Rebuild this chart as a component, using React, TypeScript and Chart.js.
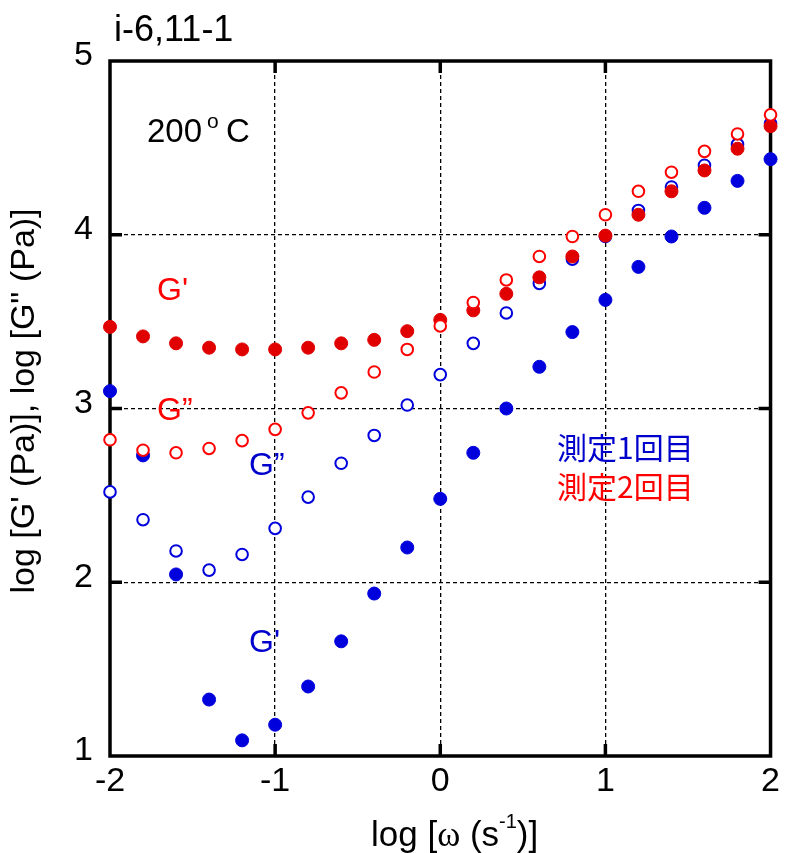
import { useEffect, useRef } from "react";
import { Chart, registerables } from "chart.js";

Chart.register(...registerables);

const logOmega = [-2, -1.8, -1.6, -1.4, -1.2, -1, -0.8, -0.6, -0.4, -0.2, 0, 0.2, 0.4, 0.6, 0.8, 1, 1.2, 1.4, 1.6, 1.8, 2];
const run1GPrime = [3.1, 2.73, 2.045, 1.325, 1.09, 1.18, 1.4, 1.66, 1.935, 2.2, 2.48, 2.745, 3.0, 3.24, 3.44, 3.625, 3.815, 3.99, 4.155, 4.31, 4.435];
const run1GDouble = [2.52, 2.36, 2.18, 2.07, 2.16, 2.31, 2.49, 2.685, 2.845, 3.02, 3.195, 3.375, 3.55, 3.72, 3.86, 3.99, 4.14, 4.275, 4.4, 4.52, 4.64];
const run2GPrime = [3.47, 3.415, 3.375, 3.35, 3.34, 3.34, 3.35, 3.375, 3.395, 3.445, 3.51, 3.565, 3.66, 3.755, 3.875, 3.995, 4.115, 4.25, 4.37, 4.495, 4.625];
const run2GDouble = [2.82, 2.76, 2.745, 2.77, 2.815, 2.88, 2.975, 3.09, 3.21, 3.34, 3.475, 3.61, 3.74, 3.875, 3.99, 4.115, 4.25, 4.36, 4.48, 4.58, 4.69];

const xMin = -2;
const xMax = 2;
const yMin = 1;
const yMax = 5;

const RED = "#e00000";
const BLUE = "#0000dd";
const SANS = "'Liberation Sans', Arial, sans-serif";

const toPoints = (ys: number[]) => logOmega.map((x, i) => ({ x, y: ys[i] }));

const framePlugin = {
  id: "frame",
  beforeDatasetsDraw(chart: any) {
    const { ctx, chartArea } = chart;
    const { left, right, top, bottom } = chartArea;
    const xs = chart.scales.x;
    const ys = chart.scales.y;
    ctx.save();
    ctx.strokeStyle = "#000";
    ctx.lineWidth = 3.5;
    ctx.setLineDash([]);
    ctx.strokeRect(left, top, right - left, bottom - top);
    ctx.lineWidth = 3.5;
    const tl = 12;
    for (let v = xMin + 1; v < xMax; v++) {
      const px = xs.getPixelForValue(v);
      ctx.beginPath();
      ctx.moveTo(px, bottom);
      ctx.lineTo(px, bottom - tl);
      ctx.moveTo(px, top);
      ctx.lineTo(px, top + tl);
      ctx.stroke();
    }
    for (let v = yMin + 1; v < yMax; v++) {
      const py = ys.getPixelForValue(v);
      ctx.beginPath();
      ctx.moveTo(left, py);
      ctx.lineTo(left + tl, py);
      ctx.moveTo(right, py);
      ctx.lineTo(right - tl, py);
      ctx.stroke();
    }
    ctx.restore();
  },
  afterDraw(chart: any) {
    const { ctx } = chart;
    ctx.save();
    ctx.textBaseline = "alphabetic";
    ctx.textAlign = "left";

    // title
    ctx.fillStyle = "#000";
    ctx.font = `36px ${SANS}`;
    ctx.fillText("i-6,11-1", 114, 41);

    // 200 °C
    ctx.font = `33px ${SANS}`;
    ctx.fillText("200", 147, 142);
    ctx.font = `21px ${SANS}`;
    ctx.fillText("o", 207, 128);
    ctx.font = `33px ${SANS}`;
    ctx.fillText("C", 226, 142);

    // series labels
    ctx.font = `32px ${SANS}`;
    ctx.fillStyle = "#ff0000";
    ctx.fillText("G'", 157, 300);
    ctx.fillText("G\u201d", 157, 420);
    ctx.fillStyle = "#0000cc";
    ctx.fillText("G\u201d", 249, 475);
    ctx.fillText("G'", 249, 652);

    // legend text
    ctx.font = `30px 'Noto Sans CJK JP', sans-serif`;
    ctx.textBaseline = "middle";
    ctx.fillStyle = "#0000cc";
    ctx.fillText("測定1回目", 557, 448);
    ctx.fillStyle = "#ff0000";
    ctx.fillText("測定2回目", 557, 487);

    // x axis title
    ctx.textBaseline = "alphabetic";
    ctx.fillStyle = "#000";
    let x = 371;
    const base = 846;
    const seg = (t: string, font: string, dy = 0) => {
      ctx.font = font;
      ctx.fillText(t, x, base + dy);
      x += ctx.measureText(t).width;
    };
    seg("log [", `35px ${SANS}`);
    seg("\u03c9", `35px 'Liberation Serif', serif`);
    seg(" (s", `35px ${SANS}`);
    seg("-1", `20px ${SANS}`, -18);
    seg(")]", `35px ${SANS}`);

    // y axis title
    ctx.translate(25, 401);
    ctx.rotate(-Math.PI / 2);
    ctx.font = `34px ${SANS}`;
    ctx.textAlign = "center";
    ctx.textBaseline = "middle";
    ctx.fillText("log [G' (Pa)], log [G\" (Pa)]", 0, 0);
    ctx.restore();
  },
};

export default function App() {
  const canvasRef = useRef<HTMLCanvasElement | null>(null);

  useEffect(() => {
    const canvas = canvasRef.current;
    if (!canvas) return;
    const gridColor = (c: any) =>
      c.tick && (c.tick.value === c.scale.min || c.tick.value === c.scale.max) ? "rgba(0,0,0,0)" : "#000";

    const chart = new Chart(canvas, {
      type: "scatter",
      data: {
        datasets: [
          {
            label: "測定2回目 G''",
            data: toPoints(run2GDouble),
            pointRadius: 5.8,
            pointBorderWidth: 2,
            pointBackgroundColor: "#ffffff",
            pointBorderColor: "#ff0000",
            clip: false,
          },
          {
            label: "測定2回目 G'",
            data: toPoints(run2GPrime),
            pointRadius: 6.5,
            pointBorderWidth: 1,
            pointBackgroundColor: RED,
            pointBorderColor: RED,
            clip: false,
          },
          {
            label: "測定1回目 G''",
            data: toPoints(run1GDouble),
            pointRadius: 5.8,
            pointBorderWidth: 2,
            pointBackgroundColor: "#ffffff",
            pointBorderColor: BLUE,
            clip: false,
          },
          {
            label: "測定1回目 G'",
            data: toPoints(run1GPrime),
            pointRadius: 6.5,
            pointBorderWidth: 1,
            pointBackgroundColor: BLUE,
            pointBorderColor: BLUE,
            clip: false,
          },
        ] as any,
      },
      options: {
        animation: false,
        responsive: false,
        devicePixelRatio: 1,
        layout: { padding: { top: 61, right: 13, left: 0, bottom: 0 } },
        plugins: {
          legend: { display: false },
          tooltip: { enabled: false },
        },
        scales: {
          x: {
            type: "linear",
            min: xMin,
            max: xMax,
            afterFit: (s: any) => {
              s.height = 97;
            },
            ticks: {
              stepSize: 1,
              color: "#000",
              font: { family: SANS, size: 34 },
              padding: 5,
              maxRotation: 0,
            },
            grid: { color: gridColor, lineWidth: 1.3, drawTicks: false },
            border: { display: false, dash: [4, 3] },
          },
          y: {
            type: "linear",
            min: yMin,
            max: yMax,
            afterFit: (s: any) => {
              s.width = 110;
            },
            ticks: {
              stepSize: 1,
              color: "#000",
              font: { family: SANS, size: 34 },
              padding: 17,
              labelOffset: -5,
            },
            grid: { color: gridColor, lineWidth: 1.3, drawTicks: false },
            border: { display: false, dash: [4, 3] },
          },
        },
      } as any,
      plugins: [framePlugin],
    });
    return () => chart.destroy();
  }, []);

  return (
    <div style={{ position: "absolute", left: 0, top: 0, width: 785, height: 853, background: "#fff" }}>
      <canvas ref={canvasRef} width={785} height={853} style={{ display: "block", width: 785, height: 853 }} />
    </div>
  );
}
